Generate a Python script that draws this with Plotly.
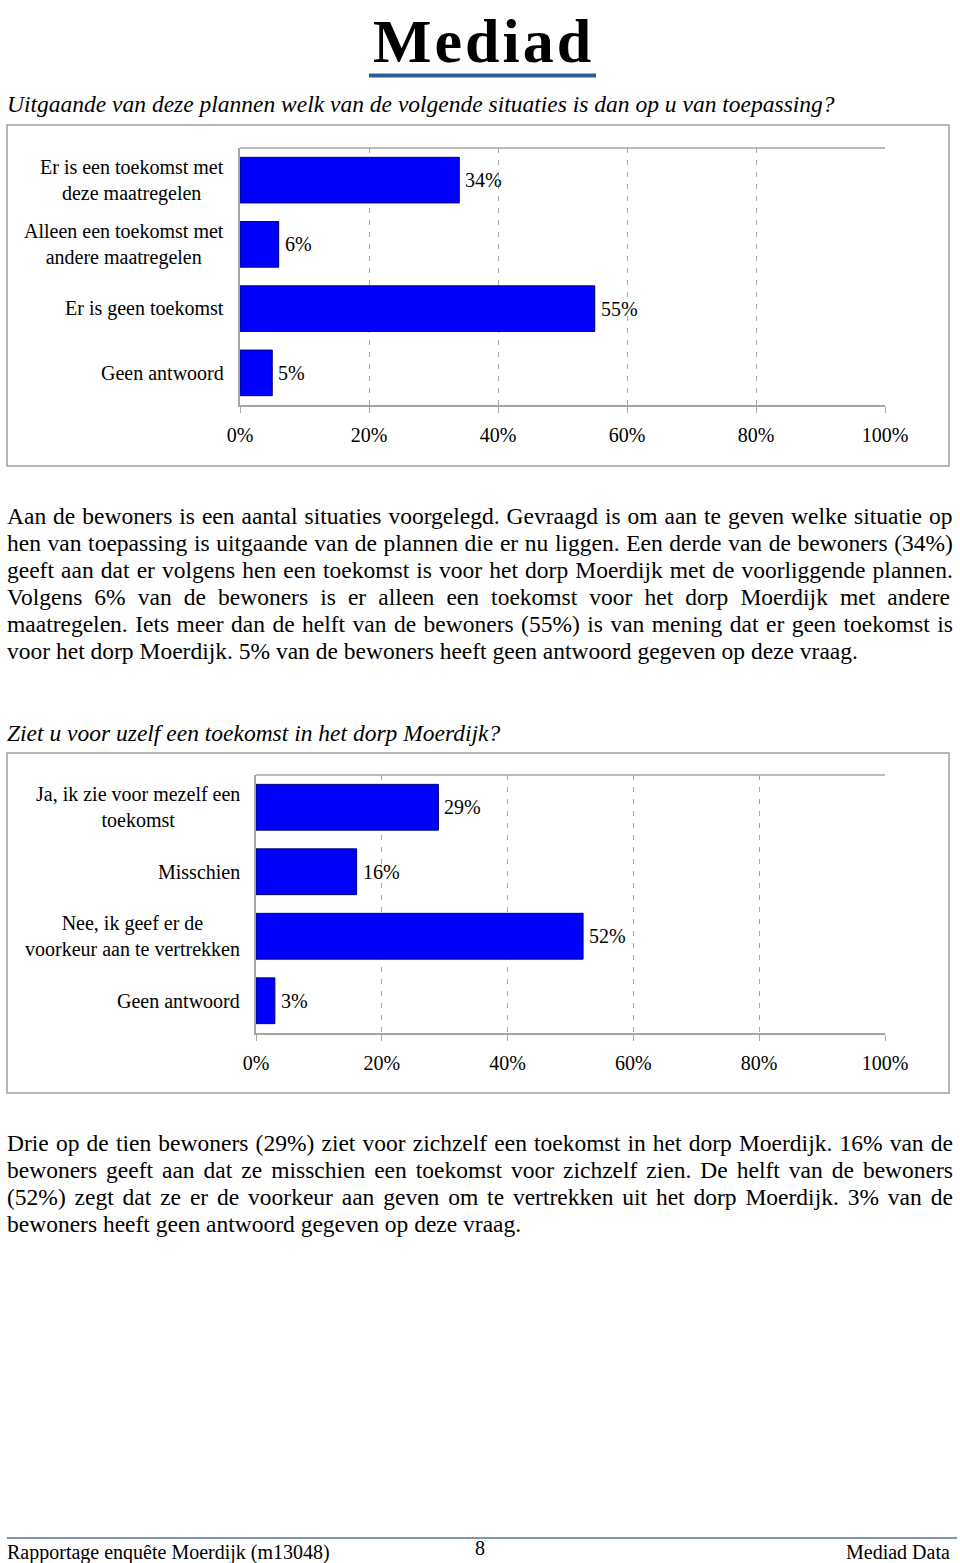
import plotly.graph_objects as go

# ---------------- data ----------------
q1_title = "Uitgaande van deze plannen welk van de volgende situaties is dan op u van toepassing?"
q1_categories = ["Er is een toekomst met<br>deze maatregelen",
                 "Alleen een toekomst met<br>andere maatregelen",
                 "Er is geen toekomst",
                 "Geen antwoord"]
q1_values = [34, 6, 55, 5]

q2_title = "Ziet u voor uzelf een toekomst in het dorp Moerdijk?"
q2_categories = ["Ja, ik zie voor mezelf een<br>toekomst",
                 "Misschien",
                 "Nee, ik geef er de<br>voorkeur aan te vertrekken",
                 "Geen antwoord"]
q2_values = [29, 16, 52, 3]

x_ticks = [0, 20, 40, 60, 80, 100]
x_tick_labels = ["0%", "20%", "40%", "60%", "80%", "100%"]

para1_lines = [
    "Aan de bewoners is een aantal situaties voorgelegd. Gevraagd is om aan te geven welke situatie op",
    "hen van toepassing is uitgaande van de plannen die er nu liggen. Een derde van de bewoners (34%)",
    "geeft aan dat er volgens hen een toekomst is voor het dorp Moerdijk met de voorliggende plannen.",
    "Volgens 6% van de bewoners is er alleen een toekomst voor het dorp Moerdijk met andere",
    "maatregelen. Iets meer dan de helft van de bewoners (55%) is van mening dat er geen toekomst is",
    "voor het dorp Moerdijk. 5% van de bewoners heeft geen antwoord gegeven op deze vraag.",
]
para2_lines = [
    "Drie op de tien bewoners (29%) ziet voor zichzelf een toekomst in het dorp Moerdijk. 16% van de",
    "bewoners geeft aan dat ze misschien een toekomst voor zichzelf zien. De helft van de bewoners",
    "(52%) zegt dat ze er de voorkeur aan geven om te vertrekken uit het dorp Moerdijk. 3% van de",
    "bewoners heeft geen antwoord gegeven op deze vraag.",
]
footer_left = "Rapportage enquête Moerdijk (m13048)"
footer_mid = "8"
footer_right = "Mediad Data"
logo_text = "Mediad"

# ---------------- helpers ----------------
W, H = 960, 1563
FONT = "Liberation Serif, Times New Roman, serif"
BLUE = "#0000ff"
GRID = "#a6a6a6"


def X(px):
    return px / W


def Y(py):
    return 1 - py / H


# Times-Roman advance widths (per 1000 em) for justification
AFM = {" ": 250, "%": 833, "(": 333, ")": 333, ".": 250, ",": 250, "?": 444,
       ":": 278, "-": 333, "ê": 444}
for c in "0123456789":
    AFM[c] = 500
AFM.update(dict(zip("ABCDEFGHIJKLMNOPQRSTUVWXYZ",
                    [722, 667, 667, 722, 611, 556, 722, 722, 333, 389, 722, 611, 889,
                     722, 722, 556, 722, 667, 556, 611, 722, 722, 944, 722, 722, 611])))
AFM.update(dict(zip("abcdefghijklmnopqrstuvwxyz",
                    [444, 500, 444, 500, 444, 333, 500, 500, 278, 278, 500, 278, 778,
                     500, 500, 500, 500, 333, 389, 278, 500, 500, 722, 500, 500, 444])))


def text_width(s, fs):
    return sum(AFM.get(c, 500) for c in s) * fs / 1000.0


fig = go.Figure()

for vals, xa, ya in ((q1_values, "x", "y"), (q2_values, "x2", "y2")):
    fig.add_trace(go.Bar(
        x=vals, y=list(range(len(vals))), orientation="h",
        marker=dict(color=BLUE, line=dict(color="#00007a", width=1)),
        width=0.71, xaxis=xa, yaxis=ya, showlegend=False, hoverinfo="skip"))

xaxis_common = dict(range=[0, 100], tickvals=x_ticks, ticktext=x_tick_labels,
                    showgrid=True, gridcolor=GRID, griddash="5px,7px", gridwidth=1,
                    showline=True, linecolor=GRID, linewidth=1.5,
                    ticks="outside", ticklen=6, tickcolor=GRID, tickwidth=1,
                    tickfont=dict(family=FONT, size=20, color="black"),
                    ticklabelstandoff=5, zeroline=False, fixedrange=True,
                    automargin=False)
yaxis_common = dict(range=[3.5, -0.5], showticklabels=False, showgrid=False,
                    showline=True, linecolor=GRID, linewidth=1.5, ticks="",
                    zeroline=False, fixedrange=True, automargin=False)

# chart areas (pixels)
c1 = dict(x0=240, x1=885, y0=148, y1=405, frame=(7, 949, 125, 466), lab=226)
c2 = dict(x0=256, x1=885, y0=775, y1=1033, frame=(7, 949, 753, 1093), lab=242)

fig.update_layout(
    width=W, height=H, autosize=False,
    margin=dict(l=0, r=0, t=0, b=0, pad=0, autoexpand=False),
    paper_bgcolor="white", plot_bgcolor="white",
    xaxis=dict(domain=[X(c1["x0"]), X(c1["x1"])], anchor="y", **xaxis_common),
    yaxis=dict(domain=[Y(c1["y1"]), Y(c1["y0"])], anchor="x", **yaxis_common),
    xaxis2=dict(domain=[X(c2["x0"]), X(c2["x1"])], anchor="y2", **xaxis_common),
    yaxis2=dict(domain=[Y(c2["y1"]), Y(c2["y0"])], anchor="x2", **yaxis_common),
)

shapes = []
annotations = []

for c in (c1, c2):
    fx0, fx1, fy0, fy1 = c["frame"]
    shapes.append(dict(type="rect", xref="paper", yref="paper",
                       x0=X(fx0), x1=X(fx1), y0=Y(fy1), y1=Y(fy0),
                       line=dict(color="#a0a0a0", width=1.5), layer="below"))
    # top border of plot area
    shapes.append(dict(type="line", xref="paper", yref="paper",
                       x0=X(c["x0"]), x1=X(c["x1"]), y0=Y(c["y0"]), y1=Y(c["y0"]),
                       line=dict(color=GRID, width=1.5)))

# category labels and value labels
for cats, vals, c, xref, yref in ((q1_categories, q1_values, c1, "x", "y"),
                                   (q2_categories, q2_values, c2, "x2", "y2")):
    for i, lab in enumerate(cats):
        annotations.append(dict(text=lab, x=X(c["lab"]), xref="paper", y=i, yref=yref,
                                xanchor="right", yanchor="middle", align="center",
                                showarrow=False,
                                font=dict(family=FONT, size=20, color="black")))
    for i, v in enumerate(vals):
        annotations.append(dict(text=f"{v}%", x=v, xref=xref, y=i, yref=yref,
                                xanchor="left", yanchor="middle", xshift=4,
                                showarrow=False,
                                font=dict(family=FONT, size=20, color="black")))

# logo
annotations.append(dict(text='<b><span style="letter-spacing:3px">' + logo_text + "</span></b>",
                        x=X(483), y=Y(41), xref="paper",
                        yref="paper", xanchor="center", yanchor="middle", showarrow=False,
                        font=dict(family=FONT, size=62, color="black")))
shapes.append(dict(type="line", xref="paper", yref="paper", x0=X(369), x1=X(596),
                   y0=Y(75.5), y1=Y(75.5), line=dict(color="#2e5b9a", width=4)))

# titles
BODY_FS = 23.5
for txt, yc in ((q1_title, 104), (q2_title, 733)):
    annotations.append(dict(text="<i>" + txt + "</i>", x=X(5), y=Y(yc), xref="paper",
                            yref="paper", xanchor="left", yanchor="middle", showarrow=False,
                            font=dict(family=FONT, size=BODY_FS, color="black")))

# justified body text
LEFT, RIGHT = 7, 953


def add_paragraph(lines, y_first, step=27):
    for k, line in enumerate(lines):
        yc = y_first + k * step
        last = (k == len(lines) - 1)
        txt = line
        if not last:
            nsp = line.count(" ")
            natural = text_width(line, BODY_FS)
            extra = (RIGHT - LEFT - natural) / nsp if nsp else 0
            txt = f'<span style="word-spacing:{extra:.2f}px">{line}</span>'
        annotations.append(dict(text=txt, x=X(LEFT - 2), y=Y(yc), xref="paper",
                                yref="paper", xanchor="left", yanchor="middle",
                                showarrow=False,
                                font=dict(family=FONT, size=BODY_FS, color="black")))


add_paragraph(para1_lines, 516)
add_paragraph(para2_lines, 1143)

# footer
shapes.append(dict(type="line", xref="paper", yref="paper", x0=X(7), x1=X(957),
                   y0=Y(1538), y1=Y(1538), line=dict(color="#7f93b2", width=2)))
annotations.append(dict(text=footer_left, x=X(5), y=Y(1552), xref="paper", yref="paper",
                        xanchor="left", yanchor="middle", showarrow=False,
                        font=dict(family=FONT, size=20, color="black")))
annotations.append(dict(text=footer_mid, x=X(480), y=Y(1548), xref="paper", yref="paper",
                        xanchor="center", yanchor="middle", showarrow=False,
                        font=dict(family=FONT, size=20, color="black")))
annotations.append(dict(text=footer_right, x=X(952), y=Y(1552), xref="paper", yref="paper",
                        xanchor="right", yanchor="middle", showarrow=False,
                        font=dict(family=FONT, size=20, color="black")))

fig.update_layout(shapes=shapes, annotations=annotations)
fig.write_html("out.html", config={"responsive": False},
               post_script="document.body.style.margin='0';document.body.style.padding='0';")
